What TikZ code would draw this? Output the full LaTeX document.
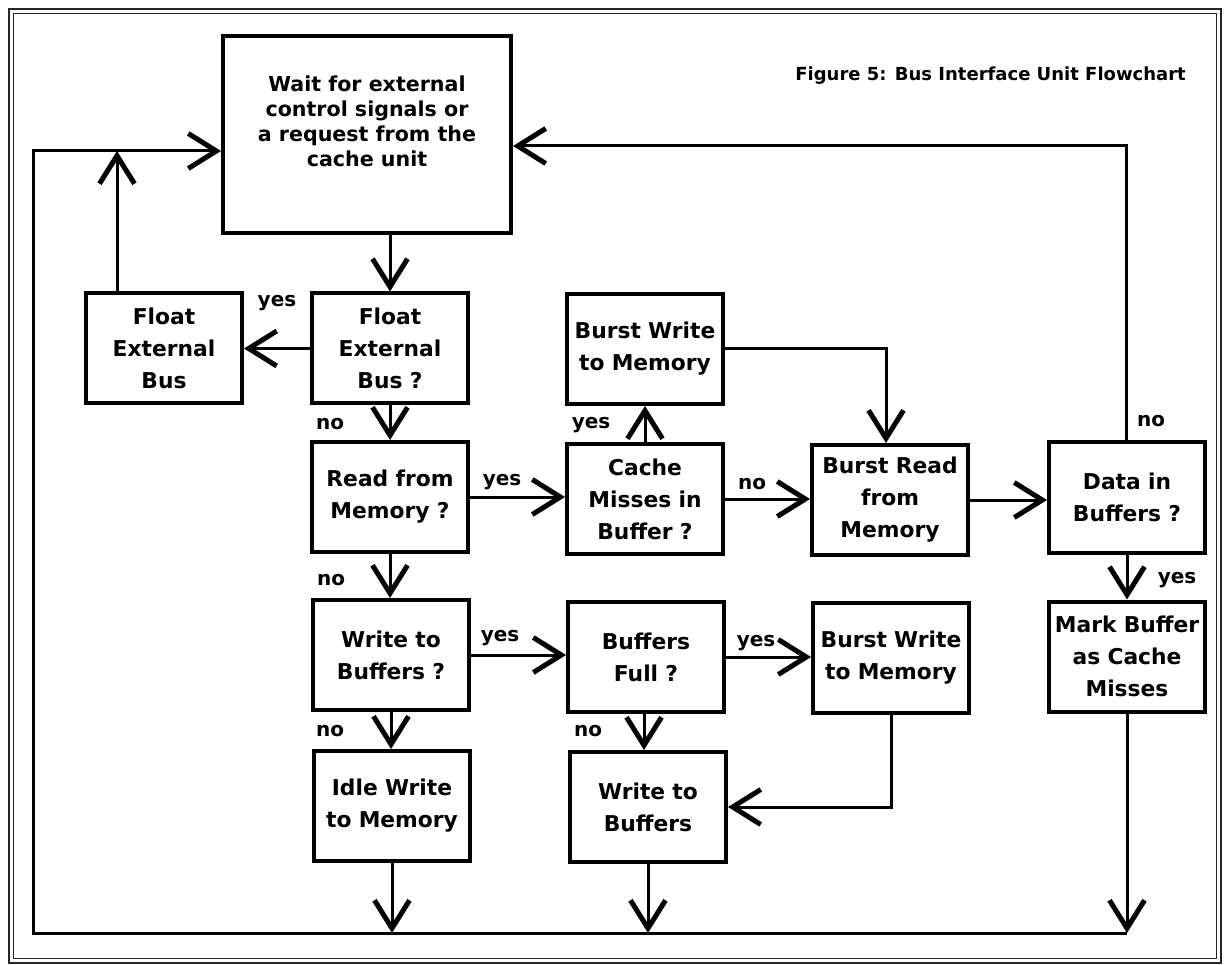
\documentclass[tikz,border=0pt]{standalone}
\usepackage{fontspec}
\setmainfont{DejaVu Sans}
\usetikzlibrary{arrows.meta}
\begin{document}
\begin{tikzpicture}[x=1pt,y=-1pt,
  box/.style={draw, line width=4pt, minimum width=156pt, minimum height=110pt,
    inner sep=0pt, align=center, text width=152pt,
    font=\bfseries\fontsize{21.8}{32}\selectfont},
  bigbox/.style={draw, line width=4pt, minimum width=288pt, minimum height=197pt,
    inner sep=0pt},
  bigtext/.style={align=center, inner sep=0pt,
    font=\bfseries\fontsize{20.6}{25}\selectfont},
  link/.style={line width=3pt},
  flow/.style={link, -{Straight Barb[length=28pt,width=35pt,line width=5pt]}},
  lbl/.style={font=\bfseries\fontsize{20}{24}\selectfont, inner sep=0pt},
  frame/.style={line width=1.6pt, black!85},
  heading/.style={font=\bfseries\fontsize{18}{22}\selectfont, inner sep=0pt},
]
\useasboundingbox (0,0) rectangle (1224,965);

% double border
\draw[frame] (9,9) rectangle (1221,963);
\draw[frame] (13.5,13.5) rectangle (1216.5,958.5);

\node[heading, anchor=base east] (title) at (1186,81) {Figure 5: Bus Interface Unit Flowchart};

% boxes
\node[bigbox] (wait) at (367,134.5) {};
\node[bigtext] (waittext) at ([yshift=13pt]wait.center) {Wait for external\\control signals or\\a request from the\\cache unit};

\node[box] (feb)  at (164,348.5) {Float\\External\\Bus};
\node[box] (febq) at (390,348.5) {Float\\External\\Bus ?};
\node[box] (rmq)  at (390,497)   {Read from\\Memory ?};
\node[box] (wbq)  at (391,655)   {Write to\\Buffers ?};
\node[box] (idle) at (392,806)   {Idle Write\\to Memory};

\node[box] (bwa)  at (645,349)   {Burst Write\\to Memory};
\node[box] (cmq)  at (645,499)   {Cache\\Misses in\\Buffer ?};
\node[box] (bfq)  at (646,657)   {Buffers\\Full ?};
\node[box] (wb)   at (648,807)   {Write to\\Buffers};

\node[box] (brm)  at (890,500)   {Burst Read\\from\\Memory};
\node[box] (bwb)  at (891,658)   {Burst Write\\to Memory};

\node[box] (dbq)  at (1127,497.5) {Data in\\Buffers ?};
\node[box] (mark) at (1127,656.5) {Mark Buffer\\as Cache\\Misses};

% return paths
\coordinate (lt) at (33,151);
\coordinate (lb) at (33,933);
\coordinate (ul) at (117,151);
\coordinate (ur) at (1126,146);

\draw[flow] (mark.south |- lb) -- (lb) -- (lt) -- (lt -| wait.west);
\draw[flow] (ul |- feb.north) -- (ul);
\draw[flow] (ur |- dbq.north) -- (ur) -- (ur -| wait.east);

% main flow
\draw[flow] (wait.south -| febq.north) -- (febq.north);
\draw[flow] (febq.west) -- (feb.east);
\draw[flow] (febq.south) -- (febq.south |- rmq.north);
\draw[flow] (rmq.east) -- (rmq.east -| cmq.west);
\draw[flow] (rmq.south) -- (rmq.south |- wbq.north);
\draw[flow] (wbq.south) -- (wbq.south |- idle.north);
\draw[flow] (wbq.east) -- (wbq.east -| bfq.west);

\draw[flow] (cmq.north) -- (cmq.north |- bwa.south);
\draw[flow] (cmq.east) -- (cmq.east -| brm.west);
\draw[flow] (bwa.east) -| ([xshift=-4pt]brm.north);
\draw[flow] (brm.east) -- (brm.east -| dbq.west);
\draw[flow] (dbq.south) -- (mark.north);

\draw[flow] ([xshift=-2pt]bfq.south) -- ([xshift=-2pt]bfq.south |- wb.north);
\draw[flow] (bfq.east) -- (bfq.east -| bwb.west);
\draw[flow] (bwb.south) |- (wb.east);

\draw[flow] (idle.south) -- (idle.south |- lb);
\draw[flow] (wb.south) -- (wb.south |- lb);
\draw[flow] (mark.south) -- (mark.south |- lb);

% branch labels
\node[lbl] (y1) at (277,303) {yes};
\node[lbl] (n1) at (330,424) {no};
\node[lbl] (y2) at (502,482) {yes};
\node[lbl] (n2) at (331,580) {no};
\node[lbl] (n3) at (330,731) {no};
\node[lbl] (y3) at (500,638) {yes};
\node[lbl] (y4) at (591,425) {yes};
\node[lbl] (n4) at (752,484) {no};
\node[lbl] (n5) at (1151,421) {no};
\node[lbl] (y5) at (1177,580) {yes};
\node[lbl] (n6) at (588,731) {no};
\node[lbl] (y6) at (756,643) {yes};
\end{tikzpicture}
\end{document}
